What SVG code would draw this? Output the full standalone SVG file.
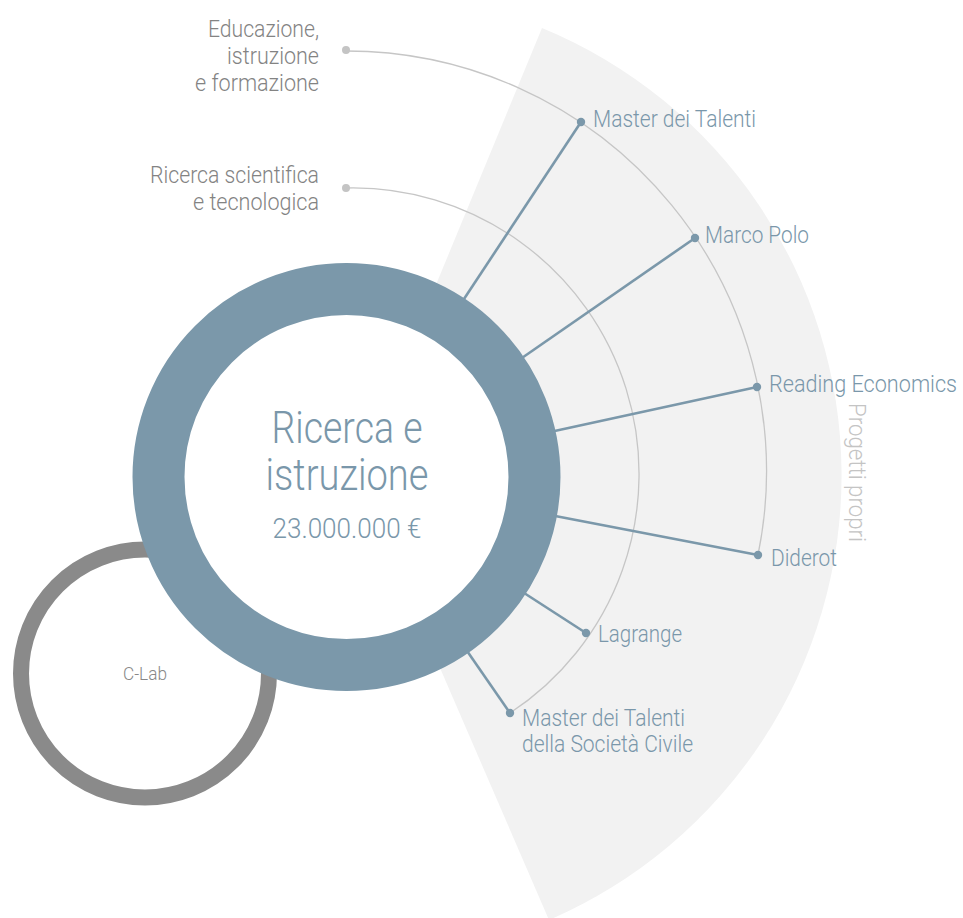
<svg xmlns="http://www.w3.org/2000/svg" width="963" height="918" viewBox="0 0 963 918">
<style>
.t{font-family:Roboto,"Open Sans","Liberation Sans",sans-serif;font-weight:300}
.blue{fill:#7a97aa}
.gray{fill:#838383}
.arc{fill:none;stroke:#c6c6c6;stroke-width:1.3}
.gdot{fill:#c4c4c4}
.con{stroke:#7b98aa;stroke-width:2.6;fill:none}
.bdot{fill:#7b98aa}
</style>
<rect width="963" height="918" fill="#ffffff"/>
<g id="fan">
<path d="M357 476 L542 28 A484 484 0 0 1 549 920 Z" fill="#f2f2f2"/>
<text class="t" transform="translate(849,403) rotate(90)" font-size="24" fill="#c4c4c4" textLength="139" lengthAdjust="spacingAndGlyphs">Progetti propri</text>
</g>
<g id="category-arcs">
<path class="arc" d="M346 51 A420 420 0 0 1 758 555"/>
<circle class="gdot" cx="346" cy="50" r="4"/>
<path class="arc" d="M346 188 A286 286 0 0 1 510 713"/>
<circle class="gdot" cx="346" cy="188" r="4"/>
</g>
<g id="connectors">
<line class="con" x1="462" y1="302" x2="581" y2="122"/>
<line class="con" x1="519" y1="360" x2="695" y2="238"/>
<line class="con" x1="550" y1="432" x2="757" y2="387"/>
<line class="con" x1="550" y1="515" x2="758" y2="555"/>
<line class="con" x1="521" y1="591" x2="586" y2="633"/>
<line class="con" x1="465" y1="648" x2="510" y2="713"/>
</g>
<g id="node-clab">
<circle cx="145" cy="673.5" r="124" fill="#ffffff" stroke="#8a8a8a" stroke-width="16"/>
<text class="t" x="145" y="680" font-size="18" fill="#888888" text-anchor="middle" textLength="44" lengthAdjust="spacingAndGlyphs">C-Lab</text>
</g>
<g id="node-main">
<circle cx="346.5" cy="477" r="188" fill="#ffffff" stroke="#7b98aa" stroke-width="52"/>
<text class="t blue" x="347" y="443" font-size="44" text-anchor="middle" textLength="151" lengthAdjust="spacingAndGlyphs">Ricerca e</text>
<text class="t blue" x="347" y="490" font-size="44" text-anchor="middle" textLength="163" lengthAdjust="spacingAndGlyphs">istruzione</text>
<text class="t blue" x="347" y="538" font-size="28" text-anchor="middle" textLength="149" lengthAdjust="spacingAndGlyphs">23.000.000 €</text>
</g>
<g id="node-educazione">
<text class="t gray" x="319" y="37" font-size="24" text-anchor="end" textLength="111" lengthAdjust="spacingAndGlyphs">Educazione,</text>
<text class="t gray" x="319" y="64" font-size="24" text-anchor="end" textLength="92" lengthAdjust="spacingAndGlyphs">istruzione</text>
<text class="t gray" x="319" y="91" font-size="24" text-anchor="end" textLength="124" lengthAdjust="spacingAndGlyphs">e formazione</text>
</g>
<g id="node-ricerca">
<text class="t gray" x="319" y="183" font-size="24" text-anchor="end" textLength="169" lengthAdjust="spacingAndGlyphs">Ricerca scientifica</text>
<text class="t gray" x="319" y="210" font-size="24" text-anchor="end" textLength="126" lengthAdjust="spacingAndGlyphs">e tecnologica</text>
</g>
<g id="node-master">
<circle class="bdot" cx="581" cy="122" r="4.2"/>
<text class="t blue" x="593" y="127" font-size="24" textLength="163" lengthAdjust="spacingAndGlyphs">Master dei Talenti</text>
</g>
<g id="node-marcopolo">
<circle class="bdot" cx="695" cy="238" r="4.2"/>
<text class="t blue" x="705" y="243" font-size="24" textLength="104" lengthAdjust="spacingAndGlyphs">Marco Polo</text>
</g>
<g id="node-reading">
<circle class="bdot" cx="757" cy="387" r="4.2"/>
<text class="t blue" x="769" y="392" font-size="24" textLength="188" lengthAdjust="spacingAndGlyphs">Reading Economics</text>
</g>
<g id="node-diderot">
<circle class="bdot" cx="758" cy="555" r="4.2"/>
<text class="t blue" x="771" y="566" font-size="24" textLength="66" lengthAdjust="spacingAndGlyphs">Diderot</text>
</g>
<g id="node-lagrange">
<circle class="bdot" cx="586" cy="633" r="4.2"/>
<text class="t blue" x="598" y="642" font-size="24" textLength="84" lengthAdjust="spacingAndGlyphs">Lagrange</text>
</g>
<g id="node-societa">
<circle class="bdot" cx="510" cy="713" r="4.2"/>
<text class="t blue" x="522" y="726" font-size="24" textLength="163" lengthAdjust="spacingAndGlyphs">Master dei Talenti</text>
<text class="t blue" x="522" y="752" font-size="24" textLength="171" lengthAdjust="spacingAndGlyphs">della Società Civile</text>
</g>
</svg>
